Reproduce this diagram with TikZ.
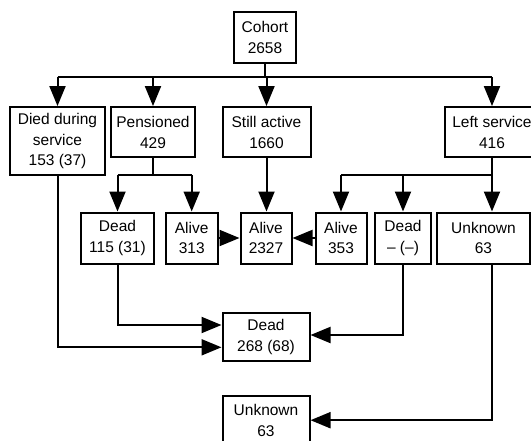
\documentclass[tikz,border=0pt]{standalone}
\usepackage{fontspec}
\setmainfont{Liberation Sans}
\usetikzlibrary{arrows.meta,calc}
\begin{document}
\begin{tikzpicture}[x=1pt,y=-1pt,
  box/.style={draw,line width=2pt,align=center,inner sep=0pt,font=\fontsize{15.5}{20.6}\selectfont},
  ln/.style={line width=2pt},
  arr/.style={line width=2pt,-{Triangle[length=20pt,width=16pt]}}]
\useasboundingbox (0,0) rectangle (531,440);
\fill[white] (0,0) rectangle (531,440);
% top
\node[box,minimum width=62pt,minimum height=51pt] (cohort) at (265,37.5) {Cohort\\2658};
% second row
\node[box,minimum width=95pt,minimum height=68.3pt] (died) at (57.5,141.2) {Died during\\service\\153 (37)};
\node[box,minimum width=84pt,minimum height=50.3pt] (pens) at (153,132.2) {Pensioned\\429};
\node[box,minimum width=88pt,minimum height=50.3pt] (still) at (266.5,132.2) {Still active\\1660};
\node[box,minimum width=94pt,minimum height=50.3pt] (left) at (492,132.2) {Left service\\416};
% third row
\node[box,minimum width=73pt,minimum height=51pt] (dead1) at (117.5,238) {Dead\\115 (31)};
\node[box,minimum width=52pt,minimum height=51pt] (alive1) at (191.7,238) {Alive\\313};
\node[box,minimum width=51pt,minimum height=51pt] (alive2) at (266,238) {Alive\\2327};
\node[box,minimum width=51pt,minimum height=51pt] (alive3) at (341,238) {Alive\\353};
\node[box,minimum width=56.6pt,minimum height=51pt] (dead2) at (403,238) {Dead\\– (–)};
\node[box,minimum width=92.4pt,minimum height=51pt] (unk1) at (483.5,238) {Unknown\\63};
% bottom
\node[box,minimum width=87pt,minimum height=48.3pt] (dead3) at (266,336.8) {Dead\\268 (68)};
\node[box,minimum width=87pt,minimum height=48.3pt] (unk2) at (266,420.2) {Unknown\\63};
% bus levels
\coordinate (busy) at (0,77);
\coordinate (py) at (0,175.3);
% cohort bus
\draw[ln] (cohort.south) -- (cohort.south |- busy);
\draw[ln] (died.north |- busy) -- (left.north |- busy);
\draw[arr] (died.north |- busy) -- (died.north);
\draw[arr] (pens.north |- busy) -- (pens.north);
\draw[arr] (still.north |- busy) -- (still.north);
\draw[arr] (left.north |- busy) -- (left.north);
% pensioned branch
\draw[ln] (pens.south) -- (pens.south |- py);
\draw[ln] (dead1.north |- py) -- (alive1.north |- py);
\draw[arr] (dead1.north |- py) -- (dead1.north);
\draw[arr] (alive1.north |- py) -- (alive1.north);
% still active
\draw[arr] (still.south) -- (still.south |- alive2.north);
% left service branch
\draw[ln] (left.south) -- (left.south |- py);
\draw[ln] (alive3.north |- py) -- (left.south |- py);
\draw[arr] (alive3.north |- py) -- (alive3.north);
\draw[arr] (dead2.north |- py) -- (dead2.north);
\draw[arr] (left.south |- py) -- (left.south |- unk1.north);
% alive merges
\draw[arr] (alive1.east) -- (alive2.west);
\draw[arr] (alive3.west) -- (alive2.east);
% dead merges
\draw[arr] (dead1.south) |- ($(dead3.west)+(0,-11.8)$);
\draw[arr] (died.south) |- ($(dead3.west)+(0,10.5)$);
\draw[arr] (dead2.south) |- ($(dead3.east)+(0,-1.8)$);
% unknown
\draw[arr] (unk1.south -| left.south) |- (unk2.east);
\end{tikzpicture}
\end{document}
